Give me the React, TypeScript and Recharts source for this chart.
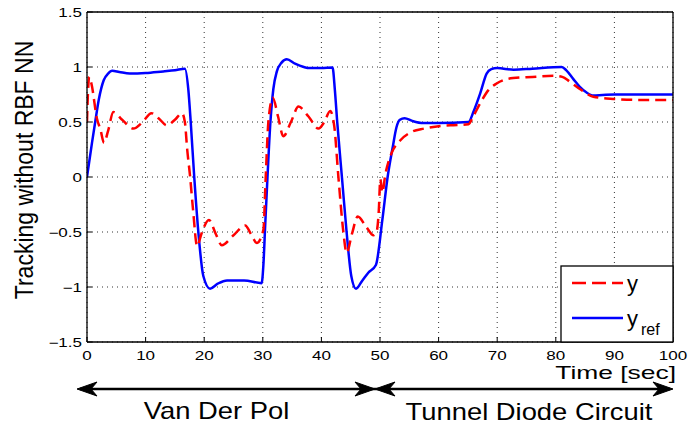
import React from 'react';
import { LineChart, Line, XAxis, YAxis, CartesianGrid } from 'recharts';

// Time [sec] samples for reference signal y_ref
const refT = [
  0, 0.85, 1.4, 2, 2.85, 3.6, 4.3, 5.5, 7.3, 10,
  13, 15, 16.7, 17.3, 17.7, 18.3, 19, 19.85, 21, 22.3,
  23.9, 26.8, 29.8, 30.1, 30.4, 30.8, 31.3, 31.8, 32.4, 33.2,
  34.1, 35.5, 37, 38, 40, 41.9, 42.3, 42.7, 43.5, 44.3,
  45.1, 45.9, 47, 48, 49.3, 50.4, 51.3, 52.2, 52.8, 53.4,
  54.2, 55.5, 57.4, 60, 65.1, 66, 67.1, 68.2, 69, 70,
  72.8, 76, 81, 81.8, 83, 84.1, 85.2, 86.4, 88, 90,
  100,
];
const refV = [
  0, 0.31, 0.5, 0.7, 0.88, 0.94, 0.966, 0.955, 0.94, 0.945,
  0.96, 0.97, 0.985, 0.79, 0.5, 0, -0.5, -0.9, -1.015, -0.97,
  -0.94, -0.94, -0.965, -0.8, -0.45, 0, 0.5, 0.8, 0.96, 1.04,
  1.07, 1.03, 1.0, 0.99, 0.99, 0.995, 0.79, 0.5, 0, -0.5,
  -0.9, -1.015, -0.94, -0.87, -0.8, -0.39, 0, 0.28, 0.45, 0.52,
  0.535, 0.51, 0.49, 0.49, 0.5, 0.6, 0.76, 0.94, 0.98, 0.99,
  0.975, 0.985, 1.0, 0.97, 0.89, 0.82, 0.77, 0.74, 0.745, 0.75,
  0.75,
];

// Time [sec] samples for tracked output y
const outT = [
  0, 0.15, 0.4, 0.75, 1.7, 2.3, 2.9, 3.6, 4.5, 6,
  7.9, 9.5, 11, 12.3, 13.6, 15, 16.2, 16.7, 17.1, 17.6,
  18.1, 18.8, 19.5, 20.8, 22, 23, 25, 27, 28, 29,
  30.1, 30.5, 30.95, 31.7, 32.6, 33.5, 34.8, 36.1, 37.8, 39.5,
  40.5, 41.5, 42.2, 42.9, 43.75, 44.3, 45.2, 46.2, 47.6, 48.9,
  49.4, 49.8, 50.05, 50.4, 50.9, 52, 53.4, 55.4, 57.5, 59.7,
  62, 65.1, 65.9, 67.1, 68.5, 69.9, 72.7, 76, 79.6, 81.1,
  82.4, 84.1, 86.4, 89.8, 95, 100,
];
const outV = [
  0.5, 0.75, 0.91, 0.85, 0.53, 0.43, 0.31, 0.42, 0.59, 0.52,
  0.44, 0.5, 0.58, 0.53, 0.47, 0.52, 0.58, 0.5, 0.25, 0,
  -0.3, -0.63, -0.52, -0.39, -0.52, -0.62, -0.53, -0.44, -0.52, -0.6,
  -0.48, 0, 0.5, 0.72, 0.55, 0.37, 0.5, 0.64, 0.55, 0.44,
  0.5, 0.6, 0.46, 0, -0.5, -0.69, -0.52, -0.36, -0.45, -0.53,
  -0.5, -0.3, -0.02, -0.14, 0.02, 0.22, 0.33, 0.41, 0.44, 0.46,
  0.47, 0.48, 0.55, 0.67, 0.79, 0.85, 0.9, 0.91, 0.92, 0.91,
  0.866, 0.8, 0.73, 0.71, 0.7, 0.7,
];

const xTicks = [0, 10, 20, 30, 40, 50, 60, 70, 80, 90, 100];
const yTicks = [-1.5, -1, -0.5, 0, 0.5, 1, 1.5];

const yLabel = 'Tracking without RBF NN';
const xLabel = 'Time [sec]';
const regionLabels = ['Van Der Pol', 'Tunnel Diode Circuit'];

const refData = refT.map((t, i) => ({ t, v: refV[i] }));
const outData = outT.map((t, i) => ({ t, v: outV[i] }));

const FONT = '"Liberation Sans", Arial, Helvetica, sans-serif';

const fmt = (v: number) => String(v).replace('-', '\u2212');

const XTick = (props: any) => {
  const { x, y, payload } = props;
  return (
    <text
      transform={`translate(${x},${y + 10}) scale(1.42,1)`}
      textAnchor="middle"
      fontSize={12}
      fontFamily={FONT}
      fill="#000"
    >
      {fmt(payload.value)}
    </text>
  );
};

const YTick = (props: any) => {
  const { x, y, payload } = props;
  return (
    <text
      transform={`translate(${x},${y + 4.5}) scale(1.42,1)`}
      textAnchor="end"
      fontSize={12}
      fontFamily={FONT}
      fill="#000"
    >
      {fmt(payload.value)}
    </text>
  );
};

const arrowHead = (tx: number, ty: number, dir: number) => {
  const d = `M ${tx} ${ty} L ${tx + dir * 20} ${ty - 7} L ${tx + dir * 14} ${ty} L ${tx + dir * 20} ${ty + 7} Z`;
  return <path d={d} fill="#000" stroke="#000" strokeWidth={1} strokeLinejoin="miter" />;
};

export default function App() {
  return (
    <div style={{ position: 'absolute', left: 0, top: 0, width: 688, height: 428, background: '#fff' }}>
      <LineChart
        width={688}
        height={428}
        margin={{ top: 11, right: 14, bottom: 56, left: 0 }}
      >
        <CartesianGrid
          stroke="#000"
          strokeDasharray="1 4"
          strokeWidth={1}
          strokeOpacity={0.8}
        />
        <XAxis
          dataKey="t"
          type="number"
          domain={[0, 100]}
          ticks={xTicks}
          allowDataOverflow
          height={30}
          tickSize={-5}
          tickMargin={13}
          tick={<XTick />}
          stroke="#000"
          axisLine={{ stroke: '#000', strokeWidth: 1.3 }}
          tickLine={{ stroke: '#000' }}
        />
        <XAxis
          xAxisId="top"
          orientation="top"
          dataKey="t"
          type="number"
          domain={[0, 100]}
          ticks={xTicks}
          height={1}
          tickSize={-5}
          tick={false}
          axisLine={{ stroke: '#000', strokeWidth: 1.3 }}
          tickLine={{ stroke: '#000' }}
        />
        <YAxis
          type="number"
          domain={[-1.5, 1.5]}
          ticks={yTicks}
          allowDataOverflow
          width={87}
          tickSize={-5}
          tickMargin={10}
          tick={<YTick />}
          axisLine={{ stroke: '#000', strokeWidth: 1.3 }}
          tickLine={{ stroke: '#000' }}
        />
        <YAxis
          yAxisId="right"
          orientation="right"
          type="number"
          domain={[-1.5, 1.5]}
          ticks={yTicks}
          width={1}
          tickSize={-5}
          tick={false}
          axisLine={{ stroke: '#000', strokeWidth: 1.3 }}
          tickLine={{ stroke: '#000' }}
        />
        <Line
          data={refData}
          dataKey="v"
          type="monotone"
          stroke="#0000ff"
          strokeWidth={2.5}
          dot={false}
          activeDot={false}
          isAnimationActive={false}
          name="y_ref"
        />
        <Line
          data={outData}
          dataKey="v"
          type="monotone"
          stroke="#ff0000"
          strokeWidth={2.5}
          strokeDasharray="11 6"
          dot={false}
          activeDot={false}
          isAnimationActive={false}
          name="y"
        />
      </LineChart>
      <svg
        width={688}
        height={428}
        style={{ position: 'absolute', left: 0, top: 0, pointerEvents: 'none' }}
      >
        <text
          transform="translate(33,170) rotate(-90) scale(1,1.13)"
          textAnchor="middle"
          fontSize={23}
          fontFamily={FONT}
          fill="#000"
        >
          {yLabel}
        </text>
        <text
          transform="translate(676,378.5) scale(1.42,1)"
          textAnchor="end"
          fontSize={18.6}
          fontFamily={FONT}
          fill="#000"
        >
          {xLabel}
        </text>
        <line x1={80} y1={389} x2={670} y2={389} stroke="#000" strokeWidth={2.5} />
        {arrowHead(77, 389, 1)}
        {arrowHead(375, 389, -1)}
        {arrowHead(375, 389, 1)}
        {arrowHead(673, 389, -1)}
        <text
          transform="translate(216.5,419) scale(1.19,1)"
          textAnchor="middle"
          fontSize={23}
          fontFamily={FONT}
          fill="#000"
        >
          {regionLabels[0]}
        </text>
        <text
          transform="translate(529,420) scale(1.19,1)"
          textAnchor="middle"
          fontSize={23}
          fontFamily={FONT}
          fill="#000"
        >
          {regionLabels[1]}
        </text>
        <rect x={561} y={266} width={112} height={76} fill="#fff" stroke="#000" strokeWidth={1.3} />
        <line x1={572} y1={283} x2={623} y2={283} stroke="#ff0000" strokeWidth={2.5} strokeDasharray="14 6" />
        <text x={627} y={291} fontSize={22} fontFamily={FONT} fill="#000">y</text>
        <line x1={572} y1={318} x2={623} y2={318} stroke="#0000ff" strokeWidth={2.5} />
        <text x={627} y={326} fontSize={22} fontFamily={FONT} fill="#000">
          y
          <tspan x={641} y={335} fontSize={16}>ref</tspan>
        </text>
      </svg>
    </div>
  );
}
